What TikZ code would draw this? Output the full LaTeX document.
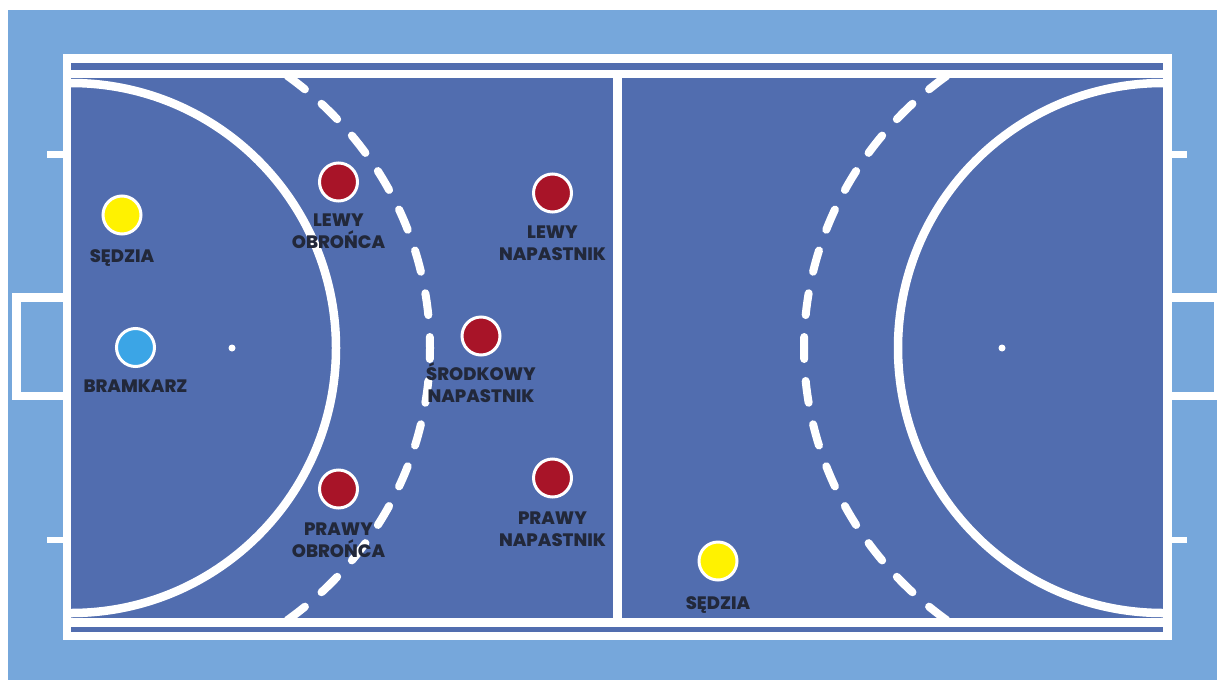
\documentclass[tikz,border=0pt]{standalone}
\usepackage{fontspec}
\setmainfont{Poppins}
\newfontfamily\lblfont{Poppins}[UprightFont=* ExtraBold]
\usetikzlibrary{positioning}
\definecolor{outerbg}{HTML}{76A7DB}
\definecolor{court}{HTML}{516DAF}
\definecolor{pred}{HTML}{A81428}
\definecolor{pyellow}{HTML}{FFF200}
\definecolor{pblue}{HTML}{3BA5E6}
\definecolor{lblc}{HTML}{22283A}
\tikzset{
  player/.style={circle, draw=white, line width=3pt, minimum size=38pt, inner sep=0pt},
  lab/.style={font=\lblfont\fontsize{18}{22}\selectfont, text=lblc, align=center, inner sep=0pt},
  solidline/.style={white, line width=8.5pt},
  dashline/.style={white, line width=8pt, line cap=round, dash pattern=on 22pt off 22pt, dash phase=11pt}
}
\begin{document}
\begin{tikzpicture}[x=1pt, y=-1pt]
\useasboundingbox (0,0) rectangle (1217,680);
\fill[white] (0,0) rectangle (1217,680);
\fill[outerbg] (8,10) rectangle (1217,680);
% goals
\fill[white] (12,293) rectangle (63,400);
\fill[outerbg] (21,302) rectangle (63,392);
\fill[white] (1172,293) rectangle (1217,400);
\fill[outerbg] (1172,302) rectangle (1214,392);
% side ticks
\fill[white] (47,151) rectangle (63,158);
\fill[white] (47,537) rectangle (63,543);
\fill[white] (1172,151) rectangle (1187,158);
\fill[white] (1172,537) rectangle (1187,543);
% court
\fill[white] (63,54) rectangle (1172,640);
\fill[court] (71,63) rectangle (1163,70);
\fill[court] (71,627) rectangle (1163,632);
\fill[court] (71,78) rectangle (613,618);
\fill[court] (622,78) rectangle (1163,618);
% left half markings
\begin{scope}
\clip (71,78) rectangle (613,618);
\draw[solidline] (71,348) circle [radius=265];
\draw[dashline] (430,348) arc[start angle=0, end angle=62, x radius=359, y radius=341];
\draw[dashline] (430,348) arc[start angle=0, end angle=-62, x radius=359, y radius=341];
\end{scope}
% right half markings
\begin{scope}
\clip (622,78) rectangle (1163,618);
\draw[solidline] (1163,348) circle [radius=265];
\draw[dashline] (804,348) arc[start angle=180, end angle=118, x radius=359, y radius=341];
\draw[dashline] (804,348) arc[start angle=180, end angle=242, x radius=359, y radius=341];
\end{scope}
\fill[white] (232,348) circle [radius=3.5];
\fill[white] (1002,348) circle [radius=3.5];
% players
\node[player, fill=pyellow] (s1) at (122,215) {};
\node[player, fill=pblue] (bk) at (135.5,347.5) {};
\node[player, fill=pred] (lo) at (338.5,182) {};
\node[player, fill=pred] (po) at (338.5,489) {};
\node[player, fill=pred] (ln) at (552.5,193) {};
\node[player, fill=pred] (sn) at (481,336) {};
\node[player, fill=pred] (pn) at (552.5,478) {};
\node[player, fill=pyellow] (s2) at (718,561) {};
% labels
\node[lab, below=14pt of s1] (s1l) {SĘDZIA};
\node[lab, below=12pt of bk] (bkl) {BRAMKARZ};
\node[lab, below=11pt of lo] (lol) {LEWY\\OBROŃCA};
\node[lab, below=13pt of po] (pol) {PRAWY\\OBROŃCA};
\node[lab, below=12pt of ln] (lnl) {LEWY\\NAPASTNIK};
\node[lab, below=6pt of sn] (snl) {ŚRODKOWY\\NAPASTNIK};
\node[lab, below=13pt of pn] (pnl) {PRAWY\\NAPASTNIK};
\node[lab, below=15pt of s2] (s2l) {SĘDZIA};
\end{tikzpicture}
\end{document}
